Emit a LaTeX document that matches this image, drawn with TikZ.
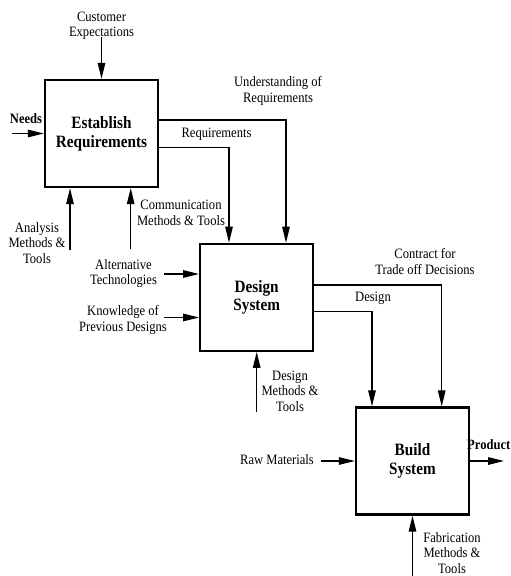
\documentclass[tikz,border=0pt]{standalone}
\usepackage{fontspec}
\setmainfont{Liberation Serif}[FakeStretch=0.88]
\usetikzlibrary{arrows.meta}

\tikzset{
  procbox/.style={draw, line width=2.2pt, minimum width=113pt, minimum height=107pt,
    inner sep=0pt, align=center, font=\fontsize{17.3}{18.7}\selectfont\bfseries},
  lbl/.style={align=center, inner sep=0pt, font=\fontsize{14.3}{15.5}\selectfont},
  lblb/.style={lbl, font=\fontsize{14.3}{15.5}\selectfont\bfseries},
  flow/.style={line width=1.3pt, -{Triangle[length=16pt,width=7.5pt]}},
}

\begin{document}
\begin{tikzpicture}[x=1pt,y=-1pt]
\useasboundingbox (0,0) rectangle (511,576);

% the three activities
\node[procbox] (1) at (101.5,133.5) {Establish\\Requirements};
\node[procbox] (2) at (256.7,297.3) {Design\\System};
\node[procbox] (3) at (412.5,461) {Build\\System};

% labels
\node[lbl] (custexp) at (101.5,26) {Customer\\Expectations};
\node[lblb] (needs) at (26,119) {Needs};
\node[lbl] (underst) at (278,91) {Understanding of\\Requirements};
\node[lbl] (reqs) at (216.5,134.5) {Requirements};
\node[lbl] (analys) at (37,243) {Analysis\\Methods \&\\Tools};
\node[lbl] (commun) at (181,213) {Communication\\Methods \& Tools};
\node[lbl] (altern) at (123.5,273.5) {Alternative\\Technologies};
\node[lbl] (knowl) at (123,320) {Knowledge of\\Previous Designs};
\node[lbl] (contract) at (425,261.5) {Contract for\\Trade off Decisions};
\node[lbl] (design) at (373,298) {Design};
\node[lbl] (desmeth) at (290,391) {Design\\Methods \&\\Tools};
\node[lbl] (raw) at (277,460) {Raw Materials};
\node[lblb, anchor=west] (product) at (467,445) {Product};
\node[lbl] (fabric) at (452,553) {Fabrication\\Methods \&\\Tools};

% free ends of the arrows
\coordinate (custtail) at (101.5,37);
\coordinate (needtail) at (12,133.5);
\coordinate (analtail) at (70,250);
\coordinate (commtail) at (130.7,249);
\coordinate (alttail) at (164,274);
\coordinate (knowtail) at (164,317.5);
\coordinate (dmtail) at (256.7,412);
\coordinate (rawtail) at (321,461);
\coordinate (prodhead) at (504,461);
\coordinate (fabtail) at (412.5,576);

% inputs and controls
\draw[flow] (custtail) -- (1.north);
\draw[flow] (needtail) -- (1.west);
\draw[flow] (analtail) -- (analtail |- 1.south);
\draw[flow] (commtail) -- (commtail |- 1.south);
\draw[flow] (alttail) -- (alttail -| 2.west);
\draw[flow] (knowtail) -- (knowtail -| 2.west);
\draw[flow] (dmtail) -- (2.south);
\draw[flow] (rawtail) -- (3.west);
\draw[flow] (fabtail) -- (3.south);

% outputs
\draw[flow] ([yshift=13.5pt]1.east) -| ([xshift=29.3pt]2.north);% understanding
\draw[flow] ([yshift=-14.2pt]1.east) -| ([xshift=-27.7pt]2.north);% requirements
\draw[flow] ([yshift=12.3pt]2.east) -| ([xshift=29.2pt]3.north);% contract
\draw[flow] ([yshift=-14.4pt]2.east) -| ([xshift=-40.5pt]3.north);% design
\draw[flow] (3.east) -- (prodhead);
\end{tikzpicture}
\end{document}
